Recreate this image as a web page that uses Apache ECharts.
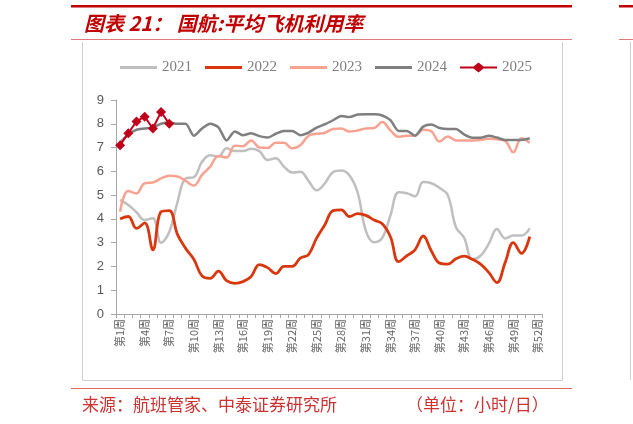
<!DOCTYPE html>
<html><head><meta charset="utf-8">
<script src="https://cdn.jsdelivr.net/npm/echarts@6/dist/echarts.min.js"></script>
<style>html,body{margin:0;padding:0;background:#fff}#c{width:633px;height:424px}</style>
</head><body><div id="c"></div>
<script>
var weeks = [];
for (var i = 1; i <= 52; i++) weeks.push('第' + i + '周');
var seriesNames = ['2021', '2022', '2023', '2024', '2025'];
var y2021 = [4.8,4.58,4.28,3.95,4.03,3.0,3.45,4.7,5.7,5.75,6.4,6.68,6.62,6.97,6.85,6.85,6.95,6.85,6.48,6.55,6.2,5.95,5.98,5.6,5.2,5.5,5.97,6.03,5.82,5.1,3.5,3.02,3.2,4.15,5.12,5.08,4.95,5.55,5.5,5.3,5.0,3.65,3.2,2.3,2.45,2.95,3.58,3.18,3.3,3.3,3.6];
var y2022 = [4.0,4.1,3.6,3.83,2.7,4.3,4.35,3.35,2.76,2.3,1.6,1.5,1.8,1.4,1.29,1.36,1.58,2.08,1.95,1.7,2.0,2.0,2.35,2.5,3.2,3.75,4.35,4.38,4.1,4.22,4.15,3.95,3.8,3.25,2.2,2.45,2.7,3.28,2.65,2.14,2.1,2.32,2.43,2.3,2.1,1.75,1.32,2.16,3.0,2.55,3.25];
var y2023 = [4.3,5.17,5.07,5.5,5.53,5.7,5.81,5.78,5.6,5.4,5.85,6.2,6.65,6.58,7.08,7.06,7.3,7.0,6.98,7.2,7.2,6.97,7.1,7.5,7.58,7.62,7.78,7.8,7.67,7.72,7.8,7.82,8.07,7.72,7.45,7.5,7.5,7.75,7.68,7.25,7.47,7.3,7.3,7.3,7.32,7.37,7.35,7.28,6.8,7.39,7.2];
var y2024 = [7.2,7.55,7.75,7.8,7.85,8.0,8.05,8.0,8.0,7.5,7.8,8.0,7.85,7.3,7.68,7.52,7.6,7.48,7.42,7.58,7.7,7.7,7.52,7.63,7.84,7.98,8.15,8.33,8.28,8.39,8.4,8.4,8.35,8.15,7.7,7.7,7.5,7.88,7.97,7.82,7.78,7.78,7.55,7.41,7.41,7.5,7.42,7.32,7.32,7.32,7.39];
var y2025 = [7.1,7.6,8.1,8.3,7.8,8.5,8.0];
var titleText = '图表 21： 国航:平均飞机利用率';
var sourceText = '来源：航班管家、中泰证券研究所';
var unitText = '（单位：小时/日）';

var lineIcon = 'path://M0,3.5L37,3.5L37,6.5L0,6.5Z';
var lineDiamondIcon = 'path://M0,4L13.5,4L18.5,0L23.5,4L37,4L37,6L23.5,6L18.5,10L13.5,6L0,6Z';

var chart = echarts.init(document.getElementById('c'), null, {renderer: 'canvas'});
var red = '#C00000';
chart.setOption({
  animation: false,
  backgroundColor: '#fff',
  graphic: [
    {type: 'rect', shape: {x: 71, y: 5, width: 501, height: 2.5}, style: {fill: red}},
    {type: 'rect', shape: {x: 619, y: 5, width: 14, height: 2.5}, style: {fill: red}},
    {type: 'line', shape: {x1: 71, y1: 39.5, x2: 572, y2: 39.5}, style: {stroke: '#DE7B7B', lineWidth: 1}},
    {type: 'line', shape: {x1: 619, y1: 39.5, x2: 633, y2: 39.5}, style: {stroke: '#DE7B7B', lineWidth: 1}},
    {type: 'polyline', shape: {points: [[82.5, 42], [82.5, 380.5], [562.5, 380.5], [562.5, 42]]}, style: {stroke: '#D0D0D0', lineWidth: 1, fill: null}},
    {type: 'line', shape: {x1: 630.5, y1: 42, x2: 630.5, y2: 380}, style: {stroke: '#D0D0D0', lineWidth: 1}},
    {type: 'line', shape: {x1: 71, y1: 388.5, x2: 572, y2: 388.5}, style: {stroke: '#E06666', lineWidth: 1}},
    {type: 'text', left: 84, top: 13, style: {text: titleText, fill: red, font: 'italic bold 20px "Noto Sans CJK SC"'}},
    {type: 'text', left: 82, top: 396, style: {text: sourceText, fill: '#CC3333', font: '17px "Noto Sans CJK SC"'}},
    {type: 'text', left: 406, top: 396, style: {text: unitText, fill: '#CC3333', font: '17px "Noto Sans CJK SC"'}}
  ],
  legend: {
    data: [
      {name: '2021', icon: lineIcon},
      {name: '2022', icon: lineIcon},
      {name: '2023', icon: lineIcon},
      {name: '2024', icon: lineIcon},
      {name: '2025', icon: lineDiamondIcon}
    ],
    left: 120, top: 60, padding: 0,
    itemWidth: 37, itemHeight: 10, itemGap: 13,
    textStyle: {fontFamily: 'Liberation Serif', fontSize: 15, color: '#7F7F7F'}
  },
  grid: {left: 116, right: 91, top: 100, bottom: 110, containLabel: false},
  xAxis: {
    type: 'category', data: weeks, boundaryGap: true,
    axisLine: {lineStyle: {color: '#A6A6A6', width: 1}},
    axisTick: {show: true, interval: 0, length: 4, lineStyle: {color: '#A6A6A6'}},
    axisLabel: {interval: 2, rotate: 90, margin: 5, fontSize: 11, color: '#666666', fontFamily: '"Noto Sans CJK SC"'},
    splitLine: {show: false}
  },
  yAxis: {
    type: 'value', min: 0, max: 9, interval: 1,
    axisLine: {show: true, lineStyle: {color: '#A6A6A6', width: 1}},
    axisTick: {show: true, length: 5, lineStyle: {color: '#A6A6A6'}},
    axisLabel: {margin: 12, fontSize: 13, color: '#595959', fontFamily: 'Liberation Sans'},
    splitLine: {show: false}
  },
  series: [
    {name: '2021', type: 'line', data: y2021, smooth: 0.4, symbol: 'none', lineStyle: {color: '#BFBFBF', width: 2.5}, itemStyle: {color: '#BFBFBF'}, z: 1},
    {name: '2022', type: 'line', data: y2022, smooth: 0.4, symbol: 'none', lineStyle: {color: '#D9380F', width: 2.8}, itemStyle: {color: '#D9380F'}, z: 2},
    {name: '2023', type: 'line', data: y2023, smooth: 0.4, symbol: 'none', lineStyle: {color: '#F8A392', width: 2.5}, itemStyle: {color: '#F8A392'}, z: 3},
    {name: '2024', type: 'line', data: y2024, smooth: 0.25, symbol: 'none', lineStyle: {color: '#7F7F7F', width: 2.5}, itemStyle: {color: '#7F7F7F'}, z: 4},
    {name: '2025', type: 'line', data: y2025, smooth: false, symbol: 'diamond', symbolSize: 10, showAllSymbol: true, showSymbol: true, lineStyle: {color: '#C0001A', width: 2}, itemStyle: {color: '#C0001A'}, z: 5}
  ]
});
</script></body></html>
